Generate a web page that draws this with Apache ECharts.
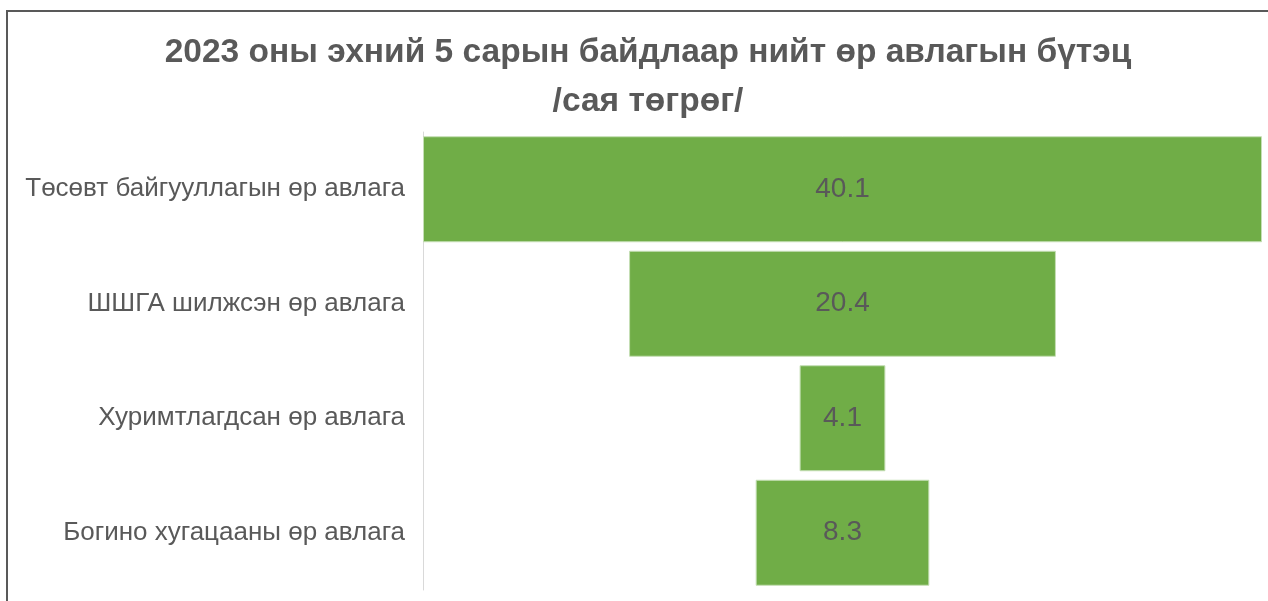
<!DOCTYPE html>
<html>
<head>
<meta charset="utf-8">
<script src="https://cdn.jsdelivr.net/npm/echarts@6/dist/echarts.min.js"></script>
<style>
  html, body { margin: 0; padding: 0; background: #fff; }
  #frame { position: absolute; left: 6px; top: 10px; width: 1300px; height: 700px;
           border-left: 2px solid #595959; border-top: 2px solid #595959; }
  #chart { position: absolute; left: 0; top: 0; width: 1268px; height: 601px; }
</style>
</head>
<body>
<div id="frame"></div>
<div id="chart"></div>
<script>
// ангилал (дээрээс доош)
var categories = [
  "Төсөвт байгууллагын өр авлага",
  "ШШГА шилжсэн өр авлага",
  "Хуримтлагдсан өр авлага",
  "Богино хугацааны өр авлага"
]
// сая төгрөг
var values = [40.1, 20.4, 4.1, 8.3]

var maxVal = Math.max.apply(null, values)
// юүлүүр хэлбэрт төвлөрүүлэх нууц хэсэг
var offsets = values.map(function (v) { return (maxVal - v) / 2 })

var chart = echarts.init(document.getElementById("chart"))
chart.setOption({
  animation: false,
  title: {
    text: "2023 оны эхний 5 сарын байдлаар нийт өр авлагын бүтэц\n/сая төгрөг/",
    left: 643,
    top: 23,
    textAlign: "center",
    textStyle: {
      fontFamily: "Liberation Sans, Arial, sans-serif",
      fontSize: 33.5,
      fontWeight: "bold",
      color: "#595959",
      lineHeight: 49
    }
  },
  grid: { left: 423, right: 6, top: 132, bottom: 11, containLabel: false },
  xAxis: {
    type: "value",
    min: 0,
    max: maxVal,
    show: false
  },
  yAxis: {
    type: "category",
    inverse: true,
    data: categories,
    axisLine: { show: true, lineStyle: { color: "#d9d9d9", width: 1 } },
    axisTick: { show: false },
    axisLabel: {
      margin: 18,
      color: "#595959",
      fontSize: 26,
      fontFamily: "Liberation Sans, Arial, sans-serif"
    }
  },
  series: [
    {
      type: "bar",
      stack: "f",
      data: offsets,
      itemStyle: { color: "transparent" },
      silent: true,
      barCategoryGap: "7.4%"
    },
    {
      type: "bar",
      stack: "f",
      data: values,
      barCategoryGap: "7.4%",
      itemStyle: { color: "#70ad47", borderColor: "#c5dfb5", borderWidth: 1 },
      label: {
        show: true,
        position: "inside",
        color: "#595959",
        fontSize: 28,
        fontFamily: "Liberation Sans, Arial, sans-serif"
      }
    }
  ]
})
</script>
</body>
</html>
